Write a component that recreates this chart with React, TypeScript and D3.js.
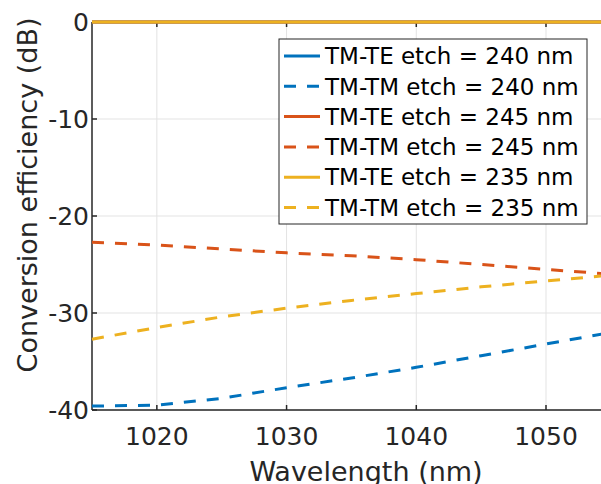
import React, { useEffect, useRef } from 'react';
import * as d3 from 'd3';

const W = 601;
const H = 484;

const wavelengths = [1015, 1020, 1025, 1030, 1035, 1040, 1045, 1050, 1055];
const teEtch240 = [0, 0, 0, 0, 0, 0, 0, 0, 0];
const tmEtch240 = [-39.6, -39.5, -38.8, -37.7, -36.7, -35.6, -34.4, -33.2, -32.0];
const teEtch245 = [0, 0, 0, 0, 0, 0, 0, 0, 0];
const tmEtch245 = [-22.7, -23.0, -23.4, -23.8, -24.1, -24.5, -25.0, -25.5, -26.0];
const teEtch235 = [0, 0, 0, 0, 0, 0, 0, 0, 0];
const tmEtch235 = [-32.7, -31.5, -30.4, -29.5, -28.7, -28.0, -27.3, -26.7, -26.1];

const xTicks = [1020, 1030, 1040, 1050];
const yTicks = [0, -10, -20, -30, -40];

const series = [
  { name: 'TM-TE etch = 240 nm', values: teEtch240, color: '#0072BD', dashed: false },
  { name: 'TM-TM etch = 240 nm', values: tmEtch240, color: '#0072BD', dashed: true },
  { name: 'TM-TE etch = 245 nm', values: teEtch245, color: '#D95319', dashed: false },
  { name: 'TM-TM etch = 245 nm', values: tmEtch245, color: '#D95319', dashed: true },
  { name: 'TM-TE etch = 235 nm', values: teEtch235, color: '#EDB120', dashed: false },
  { name: 'TM-TM etch = 235 nm', values: tmEtch235, color: '#EDB120', dashed: true },
];

const App = () => {
  const svgRef = useRef<SVGSVGElement>(null);

  useEffect(() => {
    const svg = d3.select(svgRef.current);
    svg.selectAll('*').remove();
    const font = 'DejaVu Sans';
    const ink = '#262626';
    const left = 92, top = 22, bottom = 410;

    const x = d3.scaleLinear().domain([1015, 1050]).range([left, 546]);
    const y = d3.scaleLinear().domain([-40, 0]).range([bottom, top]);
    const right = x(1055);

    svg.append('rect').attr('width', W).attr('height', H).attr('fill', 'white');

    // grid
    svg.selectAll('line.vgrid').data(xTicks).enter().append('line')
      .attr('x1', d => x(d)).attr('x2', d => x(d)).attr('y1', top).attr('y2', bottom)
      .attr('stroke', '#e3e3e3').attr('stroke-width', 1);
    svg.selectAll('line.hgrid').data(yTicks).enter().append('line')
      .attr('x1', left).attr('x2', right).attr('y1', d => y(d)).attr('y2', d => y(d))
      .attr('stroke', '#e3e3e3').attr('stroke-width', 1);

    // axes box
    svg.append('line').attr('x1', left).attr('x2', right).attr('y1', bottom).attr('y2', bottom)
      .attr('stroke', ink).attr('stroke-width', 1.5);
    svg.append('line').attr('x1', left).attr('x2', right).attr('y1', top).attr('y2', top)
      .attr('stroke', ink).attr('stroke-width', 1.5);
    svg.append('line').attr('x1', left).attr('x2', left).attr('y1', top).attr('y2', bottom)
      .attr('stroke', ink).attr('stroke-width', 1.5);

    // inward ticks
    xTicks.forEach(t => {
      svg.append('line').attr('x1', x(t)).attr('x2', x(t)).attr('y1', bottom).attr('y2', bottom - 5)
        .attr('stroke', ink).attr('stroke-width', 1.5);
      svg.append('line').attr('x1', x(t)).attr('x2', x(t)).attr('y1', top).attr('y2', top + 5)
        .attr('stroke', ink).attr('stroke-width', 1.5);
    });
    yTicks.forEach(t => {
      svg.append('line').attr('x1', left).attr('x2', left + 5).attr('y1', y(t)).attr('y2', y(t))
        .attr('stroke', ink).attr('stroke-width', 1.5);
    });

    // tick labels
    svg.selectAll('text.xt').data(xTicks).enter().append('text')
      .attr('x', d => x(d)).attr('y', 445).attr('text-anchor', 'middle')
      .attr('font-family', font).attr('font-size', 25).attr('fill', ink).text(d => d);
    svg.selectAll('text.yt').data(yTicks).enter().append('text')
      .attr('x', 89).attr('y', d => y(d)).attr('dy', '0.36em').attr('text-anchor', 'end')
      .attr('font-family', font).attr('font-size', 25).attr('fill', ink).text(d => d);

    // axis titles
    svg.append('text').attr('x', 366).attr('y', 481).attr('text-anchor', 'middle')
      .attr('font-family', font).attr('font-size', 27).attr('fill', ink).text('Wavelength (nm)');
    svg.append('text').attr('transform', 'translate(37,195) rotate(-90)').attr('text-anchor', 'middle')
      .attr('font-family', font).attr('font-size', 27).attr('fill', ink).text('Conversion efficiency (dB)');

    // lines
    const line = d3.line<number>().x((_, i) => x(wavelengths[i])).y(d => y(d));
    const order = [1, 3, 5, 0, 2, 4];
    order.forEach(k => {
      const s = series[k];
      svg.append('path').attr('d', line(s.values))
        .attr('fill', 'none').attr('stroke', s.color).attr('stroke-width', 3)
        .attr('stroke-dasharray', s.dashed ? '12,11' : null);
    });

    // legend
    const lx = 279, ly = 39, lw = 308, lh = 185, rowH = 30.3;
    svg.append('rect').attr('x', lx).attr('y', ly).attr('width', lw).attr('height', lh)
      .attr('fill', 'white').attr('stroke', ink).attr('stroke-width', 1);
    series.forEach((s, i) => {
      const cy = 56 + i * rowH;
      svg.append('line').attr('x1', 284).attr('x2', 320).attr('y1', cy).attr('y2', cy)
        .attr('stroke', s.color).attr('stroke-width', 3)
        .attr('stroke-dasharray', s.dashed ? '12,11' : null);
      svg.append('text').attr('x', 325).attr('y', cy).attr('dy', '0.36em')
        .attr('font-family', font).attr('font-size', 23).attr('fill', '#000').text(s.name);
    });
  }, []);

  return (
    <svg ref={svgRef} width={W} height={H} style={{ position: 'absolute', left: 0, top: 0 }}></svg>
  );
};

export default App;
